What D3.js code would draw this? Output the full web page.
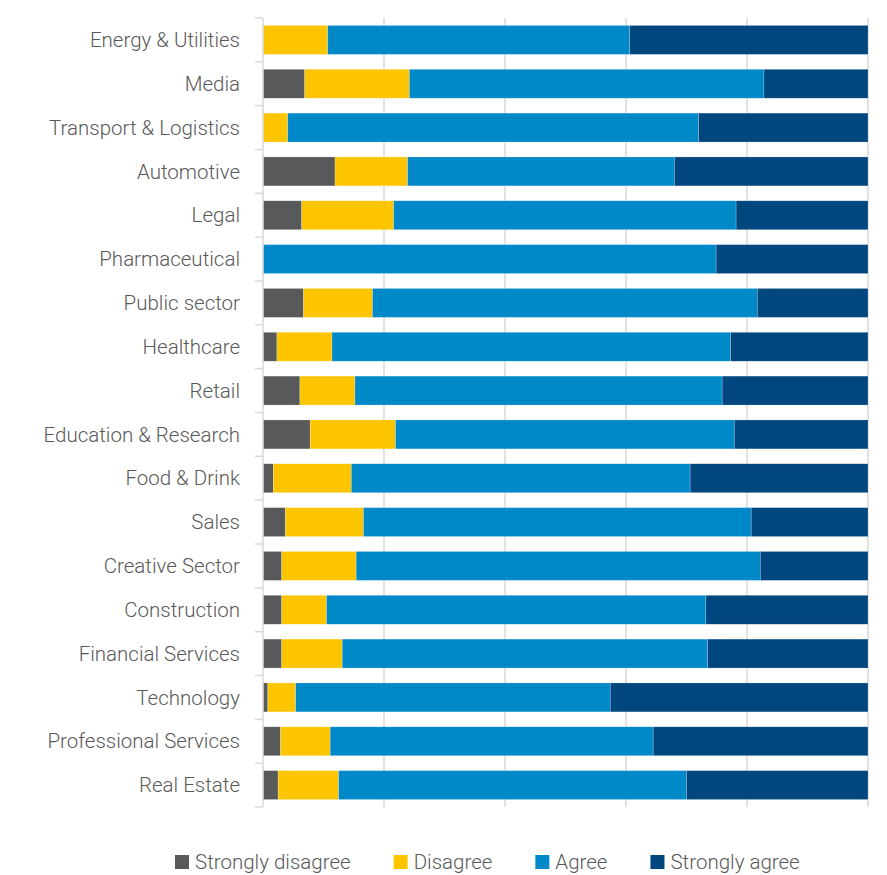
<!DOCTYPE html>
<html>
<head>
<meta charset="utf-8">
<script src="https://cdn.jsdelivr.net/npm/d3@7"></script>
<style>
  html, body { margin: 0; padding: 0; background: #fff; }
  svg { display: block; }
  text { font-family: Roboto, "Noto Sans", sans-serif; font-weight: 300; fill: #595959; }
</style>
</head>
<body>
<svg id="chart" width="887" height="875"></svg>
<script>
// Sectors, top to bottom
const sectors = [
  "Energy & Utilities", "Media", "Transport & Logistics", "Automotive", "Legal",
  "Pharmaceutical", "Public sector", "Healthcare", "Retail", "Education & Research",
  "Food & Drink", "Sales", "Creative Sector", "Construction", "Financial Services",
  "Technology", "Professional Services", "Real Estate"
];

// Share of responses (%) per sector
const stronglyDisagree = [0.0, 6.9, 0.0, 11.9, 6.4, 0.0, 6.7, 2.3, 6.1, 7.8, 1.7, 3.7, 3.1, 3.1, 3.1, 0.8, 2.9, 2.5];
const disagree         = [10.7, 17.3, 4.1, 12.0, 15.2, 0.0, 11.4, 9.1, 9.1, 14.1, 12.9, 12.9, 12.3, 7.4, 10.0, 4.6, 8.2, 10.0];
const agree            = [49.9, 58.6, 67.9, 44.1, 56.6, 74.9, 63.6, 65.9, 60.7, 56.0, 56.0, 64.1, 66.8, 62.7, 60.4, 52.0, 53.4, 57.5];
const stronglyAgree    = [39.4, 17.2, 28.0, 32.0, 21.8, 25.1, 18.3, 22.7, 24.1, 22.1, 29.4, 19.3, 17.8, 26.8, 26.5, 42.6, 35.5, 30.0];

const seriesNames  = ["Strongly disagree", "Disagree", "Agree", "Strongly agree"];
const seriesColors = ["#58595b", "#fdc500", "#0089c8", "#00467f"];
const xTicks = [0, 20, 40, 60, 80, 100];

const rows = sectors.map((s, i) => ({
  sector: s,
  "Strongly disagree": stronglyDisagree[i],
  "Disagree": disagree[i],
  "Agree": agree[i],
  "Strongly agree": stronglyAgree[i]
}));

const svg = d3.select("#chart");
const plotLeft = 263, plotRight = 868, plotTop = 18, plotBottom = 807;

const x = d3.scaleLinear().domain([0, 100]).range([plotLeft, plotRight]);
const y = d3.scaleBand().domain(sectors).range([plotTop, plotBottom]).paddingInner(0.34).paddingOuter(0.17);
const color = d3.scaleOrdinal().domain(seriesNames).range(seriesColors);

// Vertical gridlines
svg.append("g")
  .selectAll("line")
  .data(xTicks.slice(1))
  .join("line")
  .attr("x1", d => x(d)).attr("x2", d => x(d))
  .attr("y1", plotTop).attr("y2", plotBottom)
  .attr("stroke", "#d9d9d9")
  .attr("stroke-width", 1.5);

// Stacked bars
const stacked = d3.stack().keys(seriesNames)(rows);
svg.append("g")
  .selectAll("g")
  .data(stacked)
  .join("g")
  .attr("fill", d => color(d.key))
  .selectAll("rect")
  .data(d => d)
  .join("rect")
  .attr("x", d => x(d[0]))
  .attr("width", d => Math.max(0, x(d[1]) - x(d[0])))
  .attr("y", d => y(d.data.sector))
  .attr("height", y.bandwidth())
  .attr("stroke", "#ffffff")
  .attr("stroke-opacity", 0.35)
  .attr("stroke-width", 0.6);

// Category axis: line plus ticks between bands
const axisG = svg.append("g");
axisG.append("line")
  .attr("x1", plotLeft).attr("x2", plotLeft)
  .attr("y1", plotTop).attr("y2", plotBottom)
  .attr("stroke", "#d9d9d9").attr("stroke-width", 1.5);
const boundaries = d3.range(sectors.length + 1).map(i => plotTop + i * (plotBottom - plotTop) / sectors.length);
axisG.selectAll("line.tick")
  .data(boundaries)
  .join("line")
  .attr("class", "tick")
  .attr("x1", plotLeft - 8).attr("x2", plotLeft)
  .attr("y1", d => d).attr("y2", d => d)
  .attr("stroke", "#d9d9d9").attr("stroke-width", 1.5);

axisG.selectAll("text")
  .data(sectors)
  .join("text")
  .attr("x", 240)
  .attr("y", d => y(d) + y.bandwidth() / 2)
  .attr("dy", "0.35em")
  .attr("text-anchor", "end")
  .attr("font-size", 20.5)
  .text(d => d);

// Legend
const legend = svg.append("g").attr("transform", "translate(0,862)");
let lx = 175;
seriesNames.forEach(name => {
  const g = legend.append("g").attr("transform", `translate(${lx},0)`);
  g.append("rect").attr("x", 0).attr("y", -7).attr("width", 14).attr("height", 14).attr("fill", color(name));
  const t = g.append("text").attr("x", 20).attr("dy", "0.35em").attr("font-size", 20.5).text(name);
  lx += 20 + t.node().getComputedTextLength() + 43;
});
</script>
</body>
</html>
